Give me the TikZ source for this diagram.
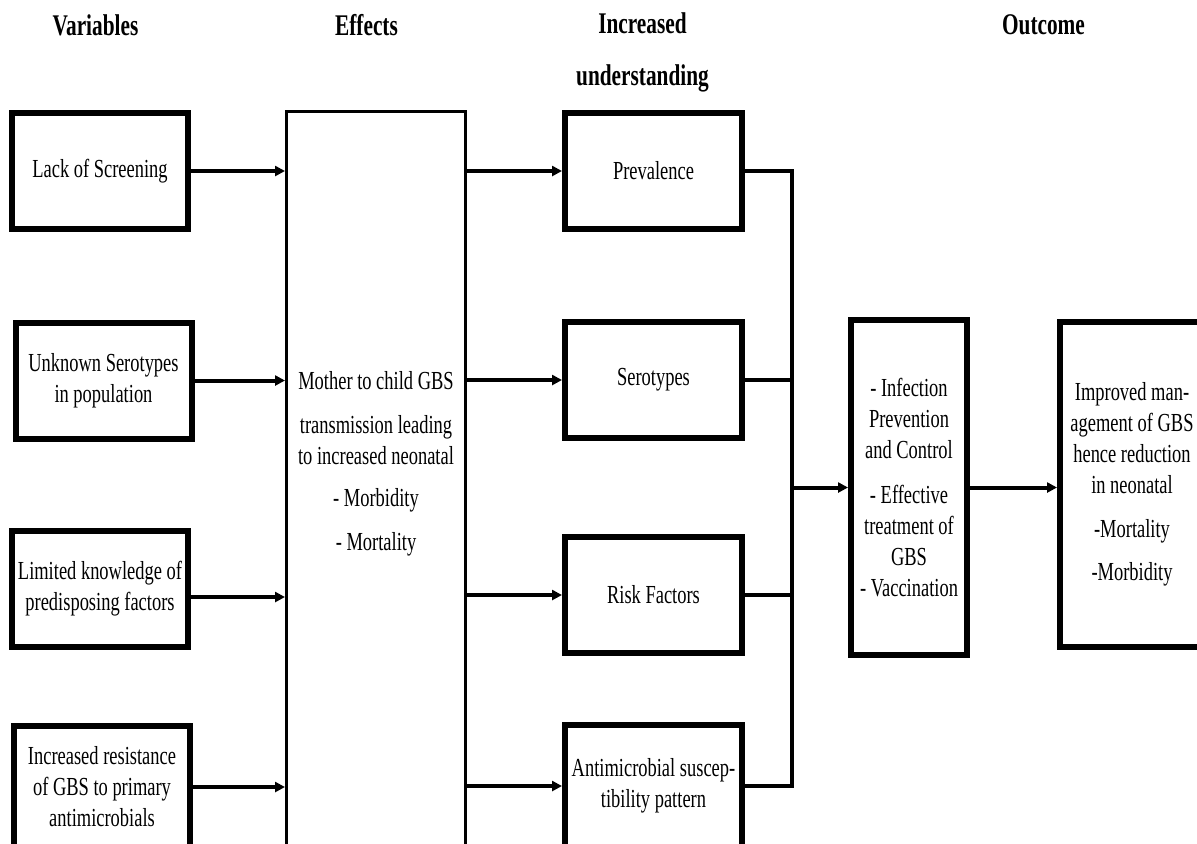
\documentclass[tikz,border=0pt]{standalone}
\usepackage{fontspec}
\setmainfont[FakeStretch=0.71]{Liberation Serif}
\usetikzlibrary{arrows.meta,positioning}

\begin{document}
\begin{tikzpicture}[
	x=0.5pt,y=-0.5pt,
	font=\fontsize{13}{15.5}\selectfont,
	box/.style={
		rectangle,draw=black,line width=3pt,minimum width=88pt,minimum height=58pt,
		align=center,inner sep=2pt},
	bigbox/.style={rectangle,draw=black,line width=1.5pt,inner sep=0pt},
	heading/.style={font=\fontsize{15}{17.5}\selectfont\bfseries,align=center},
	link/.style={line width=2pt,draw=black},
	flow/.style={link,-{Triangle[length=5pt,width=5pt]}}
	]
	\useasboundingbox (0,0) rectangle (1197,843);
	% headings
	\node [heading] (hvar) at (95.5,25) {Variables};
	\node [heading] (heff) at (366.5,25) {Effects};
	\node [heading] (hund) at (642.5,52) {Increased\\[8.5pt]understanding};
	\node [heading] (hout) at (1043.5,25) {Outcome};
	% variables
	\node [box] (lack) at (100,171) {Lack of Screening};
	\node [box] (unknown) at (103.5,380.5) {Unknown Serotypes\\in population};
	\node [box] (limited) at (100,589) {Limited knowledge of\\predisposing factors};
	\node [box,minimum height=61pt] (resist) at (102,787) {Increased resistance\\of GBS to primary\\antimicrobials};
	% effects
	\node [bigbox,minimum width=89.5pt,minimum height=394pt] (effects) at (376,505.5) {};
	\node [align=center] (efftext) at (376,464) {Mother to child GBS\\[6.5pt]transmission leading\\to increased neonatal\\[5.5pt]- Morbidity\\[6.5pt]- Mortality};
	% increased understanding
	\node [box,minimum width=88.5pt] (prev) at (653.5,171) {Prevalence};
	\node [box,minimum width=88.5pt] (sero) at (653.5,380) {Serotypes};
	\node [box,minimum width=88.5pt] (risk) at (653.5,595) {Risk Factors};
	\node [box,minimum width=88.5pt,minimum height=61pt] (anti) at (653.5,786) {Antimicrobial suscep-\\tibility pattern};
	% outcome
	\node [box,minimum width=58pt,minimum height=167.5pt] (infect) at (909,487.5) {- Infection\\Prevention\\and Control\\[7pt]- Effective\\treatment of\\GBS\\- Vaccination};
	\node [box,minimum width=72pt,minimum height=162.5pt] (result) at (1132,484.5) {Improved man-\\agement of GBS\\hence reduction\\in neonatal\\[6.5pt]-Mortality\\[6pt]-Morbidity};

	\draw [flow] (lack.east) -- (lack.east -| effects.west);
	\draw [flow] (unknown.east) -- (unknown.east -| effects.west);
	\draw [flow] ([yshift=-4pt]limited.east) -- ([yshift=-4pt]limited.east -| effects.west);
	\draw [flow] (resist.east) -- (resist.east -| effects.west);

	\draw [flow] (effects.east |- prev) -- (prev.west);
	\draw [flow] (effects.east |- sero) -- (sero.west);
	\draw [flow] (effects.east |- risk) -- (risk.west);
	\draw [flow] (effects.east |- anti) -- (anti.west);

	\path (infect.west) ++(-56,0) coordinate (bus);
	\draw [link] (prev.east) -| (bus);
	\draw [link] (sero.east) -| (bus);
	\draw [link] (risk.east) -| (bus);
	\draw [link] (anti.east) -| (bus);
	\draw [flow] (bus) -- (infect.west);
	\draw [flow] (infect.east) -- (infect.east -| result.west);
\end{tikzpicture}
\end{document}
